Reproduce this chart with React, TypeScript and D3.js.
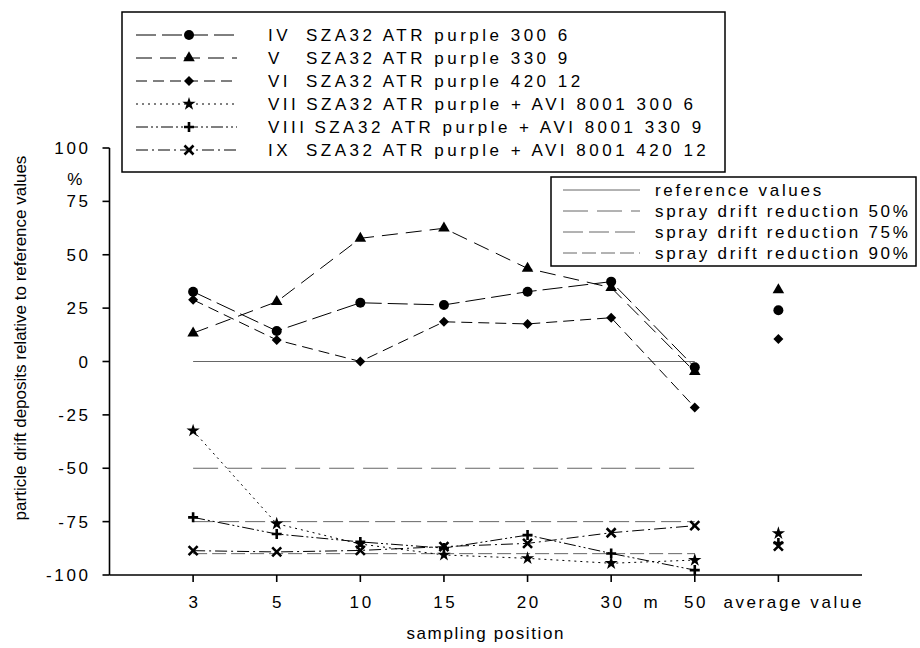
import React from 'react';
import * as d3 from 'd3';

// sampling positions (last one is the average column)
const positions = ['3', '5', '10', '15', '20', '30', '50', 'average value'];
const yTicks = [100, 75, 50, 25, 0, -25, -50, -75, -100];

const seriesNames = ['IV', 'V', 'VI', 'VII', 'VIII', 'IX'];
const seriesLabels = [
  'SZA32 ATR purple 300 6',
  'SZA32 ATR purple 330 9',
  'SZA32 ATR purple 420 12',
  'SZA32 ATR purple + AVI 8001 300 6',
  'SZA32 ATR purple + AVI 8001 330 9',
  'SZA32 ATR purple + AVI 8001 420 12',
];
// values at 3..50 m, then the average
const valuesIV = [32.7, 14.3, 27.5, 26.5, 32.7, 37.4, -2.7, 24];
const valuesV = [13.3, 28, 57.7, 62.4, 43.6, 34.6, -4.8, 33.5];
const valuesVI = [28.9, 10.1, 0, 18.6, 17.6, 20.5, -21.5, 10.5];
const valuesVII = [-32.4, -76, -85.5, -90.6, -92.2, -94.5, -93, -80.5];
const valuesVIII = [-73, -80.8, -84.5, -87.4, -81.3, -89.9, -97.7, -85];
const valuesIX = [-88.6, -89.2, -88.5, -86.7, -85.2, -80.2, -76.9, -86.5];
const allValues = [valuesIV, valuesV, valuesVI, valuesVII, valuesVIII, valuesIX];

const refNames = ['reference values', 'spray drift reduction 50%', 'spray drift reduction 75%', 'spray drift reduction 90%'];
const refValues = [0, -50, -75, -90];

const markers = ['circle', 'triangle', 'diamond', 'star', 'plus', 'cross'];
const dashes = ['20,6', '16,8', '11,6', '2,4', '12,3,2,3,2,3', '12,4,2,4'];
const refDashes = [null, '25,9', '20,6', '14,5'];

const FONT = 'Liberation Sans, Arial, sans-serif';

const Marker = ({ type, x, y }: { type: string; x: number; y: number }) => {
  const t = `translate(${x},${y})`;
  if (type === 'circle') return <circle cx={x} cy={y} r={5} fill="#000" />;
  if (type === 'triangle')
    return <path transform={t} d={d3.symbol(d3.symbolTriangle, 58)()!} fill="#000" />;
  if (type === 'diamond')
    return <path transform={`${t} rotate(45)`} d={d3.symbol(d3.symbolSquare, 50)()!} fill="#000" />;
  if (type === 'star')
    return <path transform={t} d={d3.symbol(d3.symbolStar, 55)()!} fill="#000" />;
  if (type === 'plus')
    return <path transform={t} d="M-5,0H5M0,-5V5" stroke="#000" strokeWidth={2.6} />;
  return <path transform={t} d="M-4.5,-4.5L4.5,4.5M-4.5,4.5L4.5,-4.5" stroke="#000" strokeWidth={2.6} />;
};

const App = () => {
  const width = 920;
  const height = 648;
  const left = 109.5;
  const right = 862;
  const top = 148;
  const bottom = 575;

  const x = d3.scaleLinear().domain([0, positions.length + 1]).range([left, right]);
  const y = d3.scaleLinear().domain([-100, 100]).range([bottom, top]);

  const line = d3
    .line<number>()
    .x((_, i) => x(i + 1))
    .y((d) => y(d));

  const tickStyle = { fontFamily: FONT, fontSize: 17, letterSpacing: 2.6 };
  const leg1Style = { fontFamily: FONT, fontSize: 17, letterSpacing: 3.5 };
  const leg2Style = { fontFamily: FONT, fontSize: 17, letterSpacing: 2.7 };

  // legend geometry
  const lg = { x0: 122, x1: 725, y0: 12, y1: 172, row0: 35, step: 23 };
  const lr = { x0: 551, x1: 916, y0: 177, y1: 266, row0: 190, step: 21 };

  const numWidth = (s: string) =>
    s.split('').reduce((a, c) => a + (c === 'I' ? 4.7 : 11.3) + 3.5, 0);

  return (
    <svg width={width} height={height} style={{ position: 'absolute', left: 0, top: 0, background: '#fff' }}>
      <rect width={width} height={height} fill="#fff" />

      {/* reference lines */}
      {refValues.map((v, i) => (
        <line
          key={'r' + i}
          x1={x(1)}
          x2={x(7)}
          y1={y(v)}
          y2={y(v)}
          stroke="#666"
          strokeWidth={1}
          strokeDasharray={refDashes[i] ?? undefined}
        />
      ))}

      {/* series lines (without average) */}
      {allValues.map((vals, s) => (
        <path
          key={'l' + s}
          d={line(vals.slice(0, 7))!}
          fill="none"
          stroke="#000"
          strokeWidth={1}
          strokeDasharray={dashes[s]}
        />
      ))}
      {allValues.map((vals, s) =>
        vals.map((v, i) => <Marker key={`m${s}-${i}`} type={markers[s]} x={x(i + 1)} y={y(v)} />)
      )}

      {/* axes */}
      <line x1={left} x2={left} y1={top} y2={bottom} stroke="#000" strokeWidth={1.6} />
      <line x1={left} x2={right} y1={bottom} y2={bottom} stroke="#000" strokeWidth={1.6} />
      {yTicks.map((t) => (
        <g key={'yt' + t}>
          <line x1={left - 7} x2={left} y1={y(t)} y2={y(t)} stroke="#000" strokeWidth={1.6} />
          <text x={left - 19} y={y(t)} dy="0.36em" textAnchor="end" style={tickStyle}>
            {t}
          </text>
        </g>
      ))}
      <text x={76} y={179} dy="0.36em" textAnchor="middle" style={tickStyle}>
        %
      </text>
      {positions.map((p, i) => (
        <g key={'xt' + i}>
          <line x1={x(i + 1)} x2={x(i + 1)} y1={bottom} y2={bottom + 7} stroke="#000" strokeWidth={1.6} />
          <text
            x={i === positions.length - 1 ? right + 2 : x(i + 1) + 1.3}
            y={608}
            textAnchor={i === positions.length - 1 ? 'end' : 'middle'}
            style={tickStyle}
          >
            {p}
          </text>
        </g>
      ))}
      <text x={(x(6) + x(7)) / 2 - 1} y={608} textAnchor="middle" style={tickStyle}>
        m
      </text>
      <text
        x={(left + right) / 2}
        y={639}
        textAnchor="middle"
        style={{ fontFamily: FONT, fontSize: 17, letterSpacing: 1.6 }}
      >
        sampling position
      </text>
      <text
        transform={`translate(26,338) rotate(-90)`}
        textAnchor="middle"
        style={{ fontFamily: FONT, fontSize: 17 }}
      >
        particle drift deposits relative to reference values
      </text>

      {/* legend 1 */}
      <rect x={lg.x0} y={lg.y0} width={lg.x1 - lg.x0} height={lg.y1 - lg.y0} fill="#fff" stroke="#000" strokeWidth={1.5} />
      {seriesNames.map((n, i) => {
        const cy = lg.row0 + i * lg.step;
        return (
          <g key={'lg' + i}>
            <line x1={136} x2={237} y1={cy} y2={cy} stroke="#000" strokeWidth={1} strokeDasharray={dashes[i]} />
            <Marker type={markers[i]} x={189} y={cy} />
            <text x={268} y={cy} dy="0.36em" style={leg1Style}>
              {n}
            </text>
            <text x={Math.max(306, 268 + numWidth(n) + 7)} y={cy} dy="0.36em" style={leg1Style}>
              {seriesLabels[i]}
            </text>
          </g>
        );
      })}

      {/* legend 2 */}
      <rect x={lr.x0} y={lr.y0} width={lr.x1 - lr.x0} height={lr.y1 - lr.y0} fill="#fff" stroke="#000" strokeWidth={1.5} />
      {refNames.map((n, i) => {
        const cy = lr.row0 + i * lr.step;
        return (
          <g key={'lr' + i}>
            <line x1={563} x2={640} y1={cy} y2={cy} stroke="#666" strokeWidth={1} strokeDasharray={refDashes[i] ?? undefined} />
            <text x={655} y={cy} dy="0.36em" style={leg2Style}>
              {n}
            </text>
          </g>
        );
      })}
    </svg>
  );
};

export default App;
